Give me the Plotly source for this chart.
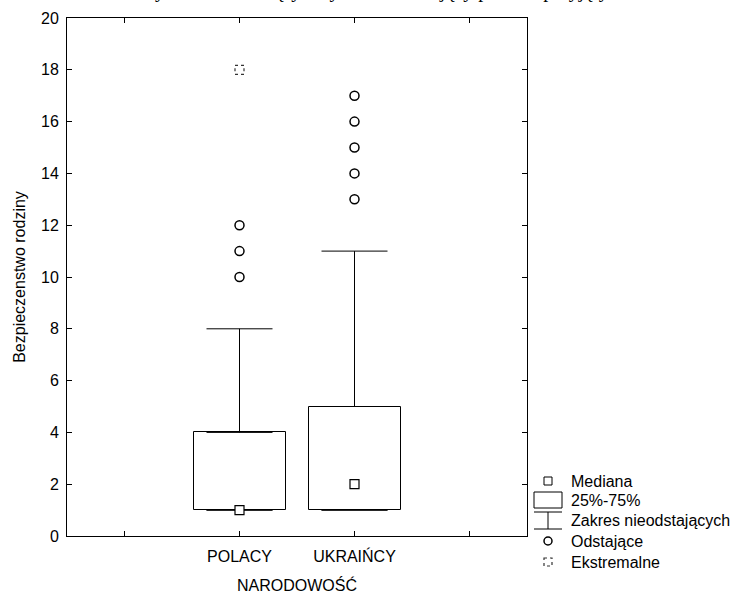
import plotly.graph_objects as go

# --- data ---
categories = ["POLACY", "UKRAIŃCY"]
cat_pos = [1, 2]
q1 = [1, 1]
q3 = [4, 5]
medians = [1, 2]
whisker_low = [1, 1]
whisker_high = [8, 11]
outliers = {"POLACY": [10, 11, 12], "UKRAIŃCY": [13, 14, 15, 16, 17]}
extremes = {"POLACY": [18], "UKRAIŃCY": []}

FONT = "Liberation Sans, Arial, sans-serif"

# plot area in pixels (used only for placing the hand-made legend)
W, H = 735, 594
L, R, T, B = 67, 208, 18, 58


def px_to_paper(px, py):
    return (px - L) / (W - L - R), (H - B - py) / (H - T - B)


fig = go.Figure()

# interquartile boxes
fig.add_trace(go.Bar(
    x=cat_pos,
    y=[b - a for a, b in zip(q1, q3)],
    base=q1,
    width=0.8,
    marker=dict(color="white", line=dict(color="black", width=1)),
    showlegend=False,
    hoverinfo="skip",
))

# whiskers (upper and lower) as error bars
fig.add_trace(go.Scatter(
    x=cat_pos, y=q3, mode="markers",
    marker=dict(size=1, color="rgba(0,0,0,0)"),
    error_y=dict(type="data", symmetric=False,
                 array=[h - b for h, b in zip(whisker_high, q3)],
                 arrayminus=[0] * len(q3),
                 color="black", thickness=1, width=33),
    showlegend=False, hoverinfo="skip",
))
fig.add_trace(go.Scatter(
    x=cat_pos, y=q1, mode="markers",
    marker=dict(size=1, color="rgba(0,0,0,0)"),
    error_y=dict(type="data", symmetric=False,
                 array=[0] * len(q1),
                 arrayminus=[a - lo for a, lo in zip(q1, whisker_low)],
                 color="black", thickness=1, width=33),
    showlegend=False, hoverinfo="skip",
))

# medians
fig.add_trace(go.Scatter(
    x=cat_pos, y=medians, mode="markers",
    marker=dict(symbol="square", size=9, color="white",
                line=dict(color="black", width=1.2)),
    showlegend=False,
))

# outliers
for cat, pos in zip(categories, cat_pos):
    vals = outliers[cat]
    fig.add_trace(go.Scatter(
        x=[pos] * len(vals), y=vals, mode="markers",
        marker=dict(symbol="circle", size=9, color="white",
                    line=dict(color="black", width=1.5)),
        showlegend=False,
    ))

# extremes: dotted squares anchored at data values
shapes = []
for cat, pos in zip(categories, cat_pos):
    for v in extremes[cat]:
        shapes.append(dict(
            type="rect", xref="x", yref="y",
            xsizemode="pixel", ysizemode="pixel",
            xanchor=pos, yanchor=v,
            x0=-4.5, x1=4.5, y0=-4.5, y1=4.5,
            line=dict(color="#333", width=1.2, dash="dot"),
        ))

# --- hand-made legend (right bottom) ---
def lrect(x0, y0, x1, y1, dash="solid", width=1):
    a = px_to_paper(x0, y0)
    b = px_to_paper(x1, y1)
    return dict(type="rect", xref="paper", yref="paper",
                x0=a[0], y0=a[1], x1=b[0], y1=b[1],
                line=dict(color="black" if dash == "solid" else "#333",
                          width=width, dash=dash),
                fillcolor="white")


def lline(x0, y0, x1, y1):
    a = px_to_paper(x0, y0)
    b = px_to_paper(x1, y1)
    return dict(type="line", xref="paper", yref="paper",
                x0=a[0], y0=a[1], x1=b[0], y1=b[1],
                line=dict(color="black", width=1))


def lcircle(cx, cy, r):
    a = px_to_paper(cx - r, cy - r)
    b = px_to_paper(cx + r, cy + r)
    return dict(type="circle", xref="paper", yref="paper",
                x0=a[0], y0=a[1], x1=b[0], y1=b[1],
                line=dict(color="black", width=1.5))


legend_labels = ["Mediana", "25%-75%", "Zakres nieodstających",
                 "Odstające", "Ekstremalne"]
legend_y = [481, 500, 520, 541, 562]
sx = 548
shapes += [
    lrect(sx - 4, legend_y[0] - 4, sx + 4, legend_y[0] + 4),
    lrect(534, legend_y[1] - 8, 562, legend_y[1] + 8),
    lline(534, legend_y[2] - 8, 562, legend_y[2] - 8),
    lline(sx, legend_y[2] - 8, sx, legend_y[2] + 9),
    lline(534, legend_y[2] + 9, 562, legend_y[2] + 9),
    lcircle(sx, legend_y[3], 4),
    lrect(sx - 4, legend_y[4] - 4, sx + 4, legend_y[4] + 4, dash="dot", width=1.2),
]

annotations = []
for lab, ly in zip(legend_labels, legend_y):
    ax, ay = px_to_paper(569, ly)
    annotations.append(dict(
        text=lab, x=ax, y=ay, xref="paper", yref="paper",
        xanchor="left", yanchor="middle", showarrow=False,
        font=dict(family=FONT, size=16, color="black"),
    ))

fig.update_layout(
    width=W, height=H,
    margin=dict(l=L, r=R, t=T, b=B, autoexpand=False),
    paper_bgcolor="white", plot_bgcolor="white",
    font=dict(family=FONT, size=16, color="black"),
    title=dict(
        text="Wykres ramka-wąsy: czynnik różnicujący poziom przyjętych wartości",
        font=dict(family="Liberation Serif, Times New Roman, serif", size=20, color="black"),
        x=0.57, xref="container", xanchor="center",
        y=1.0, yref="container", yanchor="bottom", pad=dict(b=3),
        automargin=False,
    ),
    showlegend=False,
    bargap=0,
    xaxis=dict(
        range=[-0.5, 3.5],
        tickvals=[0, 1, 2, 3],
        ticktext=["", categories[0], categories[1], ""],
        ticks="inside", ticklen=5, tickcolor="black",
        showline=True, linecolor="black", linewidth=1, mirror="ticks",
        showgrid=False, zeroline=False, automargin=False,
        ticklabelstandoff=6,
        title=dict(text="NARODOWOŚĆ", standoff=18,
                   font=dict(family=FONT, size=16)),
    ),
    yaxis=dict(
        range=[0, 20], dtick=2,
        ticks="inside", ticklen=5, tickcolor="black",
        showline=True, linecolor="black", linewidth=1, mirror="ticks",
        showgrid=False, zeroline=False, automargin=False,
        ticklabelstandoff=4,
        title=dict(text="Bezpieczenstwo rodziny", standoff=11,
                   font=dict(family=FONT, size=16)),
    ),
    shapes=shapes,
    annotations=annotations,
)

# the page body gets no default margin so the figure fills the window exactly
fig.write_html("out.html", config={"displayModeBar": False},
               post_script="document.body.style.margin='0px';")
